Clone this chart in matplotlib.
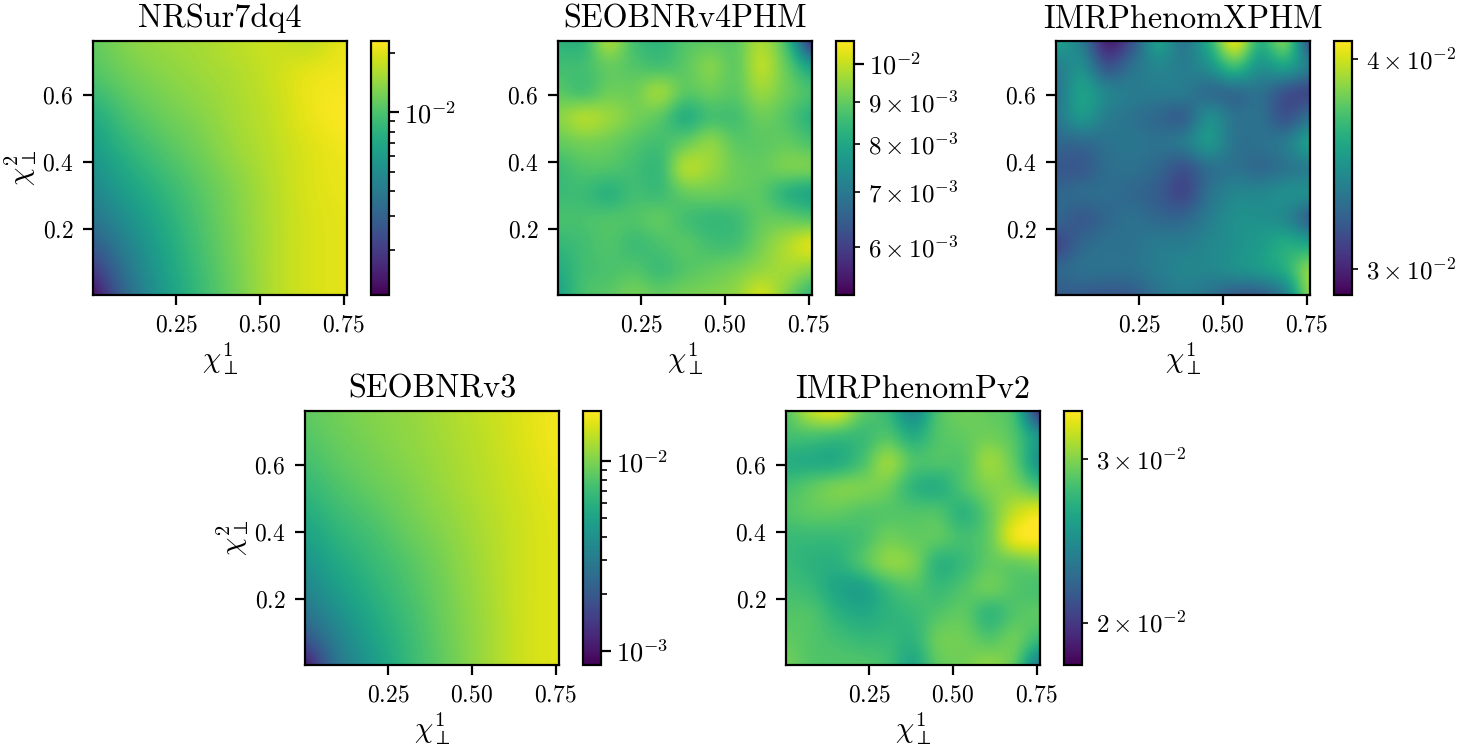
import matplotlib
matplotlib.use('Agg')
import matplotlib.pyplot as plt
import numpy as np
from matplotlib.colors import LogNorm

plt.rcParams['font.family'] = ['cmr10', 'DejaVu Sans']
plt.rcParams['mathtext.fontset'] = 'cm'
plt.rcParams['axes.formatter.use_mathtext'] = True
plt.rcParams['axes.unicode_minus'] = False

W, H = 1458, 748

# mismatch values times 1e-3, top row = largest chi2, nodes sit on the axes edges
nrsur = [[11.3, 13.5, 14.8, 15.6, 17.1, 18.2, 17.1, 21.1],
         [10.1, 12.0, 13.5, 14.8, 16.1, 18.2, 21.1, 21.7],
         [7.4, 10.1, 12.0, 13.5, 15.6, 17.6, 21.1, 23.0],
         [6.0, 8.2, 10.3, 12.3, 14.8, 17.1, 19.7, 21.7],
         [4.8, 6.6, 8.6, 10.9, 13.5, 16.6, 19.6, 21.0],
         [3.6, 5.2, 7.4, 10.1, 13.1, 16.4, 19.2, 20.5],
         [2.28, 4.1, 6.6, 9.5, 12.7, 16.4, 19.2, 20.5],
         [1.19, 3.35, 6.0, 8.9, 12.3, 16.4, 19.2, 20.5]]

seobv4 = [[8.3, 8.3, 9.8, 8.6, 8.3, 8.8, 8.9, 8.9, 9.8, 8.6, 5.5],
          [8.6, 8.6, 9.0, 8.8, 8.6, 8.9, 9.4, 8.9, 10.0, 9.0, 7.8],
          [8.9, 8.6, 9.1, 9.1, 9.7, 8.9, 9.1, 8.9, 9.6, 9.1, 8.7],
          [9.4, 9.9, 9.6, 9.2, 8.9, 8.1, 8.6, 8.6, 9.1, 8.8, 8.2],
          [9.0, 9.2, 9.1, 8.8, 8.6, 9.0, 9.5, 8.9, 8.9, 9.0, 8.7],
          [8.5, 8.8, 8.8, 8.6, 8.4, 9.9, 9.6, 9.1, 9.0, 9.3, 9.3],
          [8.5, 8.5, 8.2, 8.6, 8.5, 9.0, 9.1, 9.0, 8.9, 8.2, 7.9],
          [8.7, 8.7, 8.8, 8.8, 9.0, 8.6, 8.4, 8.5, 9.0, 9.0, 8.8],
          [8.4, 8.6, 8.8, 8.5, 8.7, 8.9, 8.6, 8.6, 9.2, 9.8, 10.4],
          [8.1, 8.6, 8.7, 8.8, 8.5, 8.8, 9.0, 9.2, 9.5, 9.7, 9.4],
          [7.9, 8.7, 8.9, 9.2, 9.0, 9.2, 9.3, 9.5, 10.2, 9.3, 8.3]]

xphm = [[35.5, 33.5, 29.5, 31.5, 35.5, 33.0, 36.0, 41.0, 36.0, 38.5, 31.0],
        [33.5, 34.5, 31.5, 33.0, 34.0, 33.5, 34.5, 37.0, 34.5, 35.5, 33.5],
        [33.0, 35.5, 34.0, 33.5, 33.5, 33.5, 32.5, 32.5, 33.0, 31.5, 31.0],
        [33.2, 35.0, 33.5, 33.0, 32.5, 32.0, 34.5, 33.0, 33.0, 31.5, 33.0],
        [32.5, 32.5, 33.0, 33.2, 33.0, 33.5, 35.0, 33.0, 33.0, 33.5, 35.5],
        [31.8, 31.8, 32.8, 33.0, 32.5, 31.5, 32.8, 33.0, 32.5, 33.0, 33.5],
        [32.5, 32.8, 32.8, 32.5, 32.0, 31.0, 33.0, 34.0, 34.0, 34.5, 34.5],
        [32.5, 31.8, 32.5, 33.0, 32.5, 32.5, 33.5, 34.5, 34.5, 34.0, 32.0],
        [31.0, 32.5, 33.0, 33.0, 33.5, 33.5, 34.0, 34.5, 35.0, 36.0, 35.5],
        [32.5, 33.0, 33.0, 33.0, 33.5, 34.0, 34.0, 34.5, 35.0, 36.0, 39.0],
        [32.0, 32.0, 31.8, 32.0, 33.0, 33.5, 33.0, 32.0, 32.0, 33.5, 39.0]]

seobv3 = [[8.6, 9.6, 10.5, 11.3, 12.6, 14.0, 15.8, 17.5],
          [7.8, 9.0, 10.0, 11.0, 12.2, 13.6, 15.5, 17.5],
          [6.6, 8.0, 9.2, 10.3, 11.8, 13.3, 15.0, 16.8],
          [5.4, 6.8, 8.0, 9.6, 11.0, 12.8, 14.6, 16.2],
          [4.3, 5.7, 7.0, 8.5, 10.3, 12.4, 14.6, 16.0],
          [3.3, 4.7, 6.2, 7.8, 9.8, 12.1, 14.6, 16.0],
          [2.2, 3.6, 5.4, 7.2, 9.5, 11.8, 14.6, 16.0],
          [0.84, 2.9, 4.7, 6.9, 9.1, 11.8, 14.6, 16.0]]

pv2 = [[28.5, 32.0, 33.0, 29.0, 27.5, 24.0, 28.5, 29.5, 29.0, 28.0, 19.0],
       [28.0, 28.0, 27.5, 27.5, 28.5, 26.5, 28.5, 29.0, 29.5, 28.5, 25.0],
       [26.5, 26.3, 26.3, 28.0, 31.0, 28.5, 28.5, 28.5, 31.0, 29.0, 24.5],
       [28.0, 29.0, 30.0, 30.0, 29.5, 27.0, 26.5, 28.5, 30.0, 30.0, 28.0],
       [28.5, 29.0, 29.0, 28.5, 28.5, 28.5, 28.5, 26.8, 29.0, 32.0, 33.5],
       [27.5, 27.5, 27.5, 28.0, 29.5, 29.0, 29.0, 28.0, 29.0, 33.5, 34.0],
       [27.5, 27.0, 26.8, 28.5, 30.5, 30.0, 26.8, 27.5, 29.0, 29.0, 29.5],
       [28.0, 27.5, 26.0, 25.5, 27.5, 28.5, 27.5, 28.5, 29.5, 28.5, 28.0],
       [28.5, 28.5, 27.0, 26.3, 27.0, 27.5, 28.5, 29.0, 27.0, 28.5, 29.0],
       [29.0, 28.5, 28.0, 27.5, 27.5, 27.0, 29.5, 29.5, 28.5, 29.5, 27.5],
       [29.5, 28.5, 28.5, 28.5, 28.0, 26.0, 29.0, 29.5, 30.5, 29.0, 23.0]]

titles = ['NRSur7dq4', 'SEOBNRv4PHM', 'IMRPhenomXPHM', 'SEOBNRv3', 'IMRPhenomPv2']
grids = [nrsur, seobv4, xphm, seobv3, pv2]
vmins = [1.19e-3, 5.25e-3, 2.895e-2, 8.4e-4, 1.80e-2]
vmaxs = [2.3e-2, 1.066e-2, 4.1e-2, 1.84e-2, 3.38e-2]
xlefts = [93, 558, 1056, 305, 786]
ytops = [41, 41, 41, 411, 411]

xticks = [0.25, 0.50, 0.75]
yticks = [0.2, 0.4, 0.6]
chi_lo, chi_hi = 0.002, 0.76

# (major ticks, major labels, minor ticks, minor labels)
cbar_ticks = [
    ([1e-2], [r'$10^{-2}$'],
     [2e-3, 3e-3, 4e-3, 5e-3, 6e-3, 7e-3, 8e-3, 9e-3, 2e-2], []),
    ([1e-2], [r'$10^{-2}$'],
     [6e-3, 7e-3, 8e-3, 9e-3],
     [r'$6\times10^{-3}$', r'$7\times10^{-3}$', r'$8\times10^{-3}$', r'$9\times10^{-3}$']),
    ([], [], [3e-2, 4e-2], [r'$3\times10^{-2}$', r'$4\times10^{-2}$']),
    ([1e-3, 1e-2], [r'$10^{-3}$', r'$10^{-2}$'],
     [2e-3, 3e-3, 4e-3, 5e-3, 6e-3, 7e-3, 8e-3, 9e-3], []),
    ([], [], [2e-2, 3e-2], [r'$2\times10^{-2}$', r'$3\times10^{-2}$']),
]

fig = plt.figure(figsize=(W / 200, H / 200), dpi=200)

for i in range(5):
    x0, y0 = xlefts[i], ytops[i]
    ax = fig.add_axes([x0 / W, 1 - (y0 + 254) / H, 254 / W, 254 / H])
    cax = fig.add_axes([(x0 + 278) / W, 1 - (y0 + 254) / H, 18 / W, 254 / H])

    z = np.array(grids[i]) * 1e-3
    # half a cell past the limits so the first and last nodes land on the spines
    half = (chi_hi - chi_lo) / (z.shape[0] - 1) / 2
    im = ax.imshow(z, cmap='viridis', norm=LogNorm(vmins[i], vmaxs[i]),
                   interpolation='mitchell', origin='upper', aspect='auto',
                   extent=[chi_lo - half, chi_hi + half, chi_lo - half, chi_hi + half])
    ax.set_xlim(chi_lo, chi_hi)
    ax.set_ylim(chi_lo, chi_hi)
    ax.set_xticks(xticks, ['$%.2f$' % t for t in xticks])
    ax.set_yticks(yticks, ['$%.1f$' % t for t in yticks])
    ax.tick_params(labelsize=8.5)
    ax.set_title(titles[i], fontsize=11.6, pad=5)
    ax.set_xlabel(r'$\chi_{\perp}^{1}$', fontsize=10.5, labelpad=1.5)
    if i in (0, 3):
        ax.set_ylabel(r'$\chi_{\perp}^{2}$', fontsize=10.5, labelpad=1)

    cbar = fig.colorbar(im, cax=cax)
    major, major_lab, minor, minor_lab = cbar_ticks[i]
    cbar.ax.yaxis.set_ticks(major, labels=major_lab)
    cbar.ax.yaxis.set_ticks(minor, labels=minor_lab, minor=True)
    cbar.ax.tick_params(which='minor', labelsize=9, pad=3)
    cbar.ax.tick_params(which='major', labelsize=9.5, pad=2)

fig.savefig('out.png', dpi=200)
